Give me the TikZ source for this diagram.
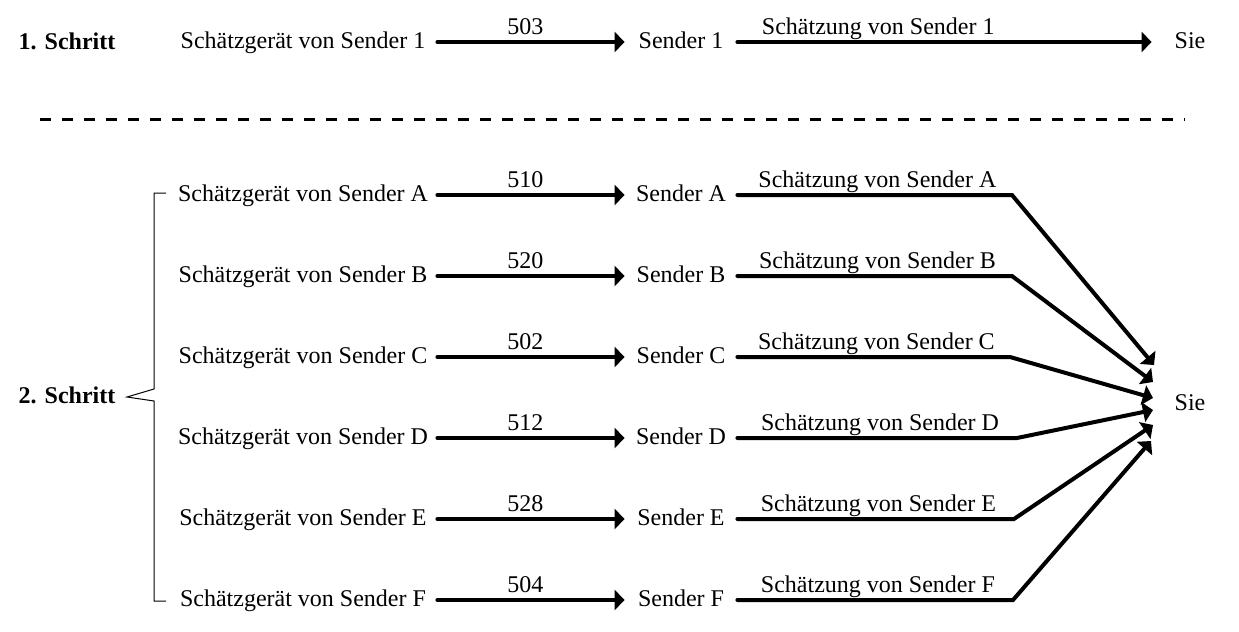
\documentclass[tikz,border=0pt]{standalone}
\usepackage{fontspec}
\setmainfont{Liberation Serif}
\usetikzlibrary{arrows.meta}

\begin{document}
\begin{tikzpicture}[x=0.5pt,y=-0.5pt,font=\fontsize{12}{14}\selectfont]
      \useasboundingbox (0,0) rectangle (1239,632);
      \tikzset{Schritt/.style = {inner sep=0pt, font=\fontsize{12}{14}\selectfont\bfseries},
               Geraet/.style = {inner sep=0pt, minimum width=134pt, text height=8.5pt, text depth=2.5pt},
               Sender/.style = {inner sep=0pt, minimum width=56pt, text height=8.5pt, text depth=2.5pt},
               Ziel/.style = {inner sep=0pt, minimum width=38pt, text height=8.5pt, text depth=2.5pt},
               Wert/.style = {above=3pt, inner sep=0pt, text depth=0pt},
               Pfeil/.style = {line width=2pt, line cap=round, -{Triangle[length=5pt,width=10pt]}}}

      % 1. Schritt
      \node[Schritt] (st1) at (67,41) {1. Schritt};
      \node[Geraet] (g1) at (303,42) {Schätzgerät von Sender 1};
      \node[Sender] (s1) at (681,42) {Sender 1};
      \node[Ziel] (sie1) at (1190,42) {Sie};
      \draw[Pfeil] (g1) -- node[Wert, pos=0.47]{503} (s1);
      \draw[Pfeil] (s1) -- node[Wert, pos=0.34]{Schätzung von Sender 1} (sie1);

      % Trennlinie
      \draw[line width=1.5pt, dash pattern=on 5.5pt off 5.5pt] (40,119) -- (1185,119);

      % 2. Schritt
      \node[Schritt] (st2) at (67,395) {2. Schritt};
      \draw[line width=0.5pt] (166,193) -- (154,193) -- (154,389) -- (127,397)
            -- (154,401) -- (154,601) -- (166,601);
      \node[Ziel] (sie2) at (1190,404) {Sie};

      % Vertices
      \node[Geraet] (gA) at (303,195) {Schätzgerät von Sender A};
      \node[Geraet] (gB) at (303,276) {Schätzgerät von Sender B};
      \node[Geraet] (gC) at (303,357) {Schätzgerät von Sender C};
      \node[Geraet] (gD) at (303,438) {Schätzgerät von Sender D};
      \node[Geraet] (gE) at (303,519) {Schätzgerät von Sender E};
      \node[Geraet] (gF) at (303,600) {Schätzgerät von Sender F};
      \node[Sender] (sA) at (681,195) {Sender A};
      \node[Sender] (sB) at (681,276) {Sender B};
      \node[Sender] (sC) at (681,357) {Sender C};
      \node[Sender] (sD) at (681,438) {Sender D};
      \node[Sender] (sE) at (681,519) {Sender E};
      \node[Sender] (sF) at (681,600) {Sender F};
      \coordinate (kA) at (1012,195);
      \coordinate (kB) at (1012,276);
      \coordinate (kC) at (1010,357);
      \coordinate (kD) at (1017,438);
      \coordinate (kE) at (1014,519);
      \coordinate (kF) at (1013,600);
      \coordinate (tA) at (1154,365);
      \coordinate (tB) at (1153,382);
      \coordinate (tC) at (1153,398);
      \coordinate (tD) at (1153,410);
      \coordinate (tE) at (1153,425);
      \coordinate (tF) at (1151,441);

      % Edges
      \draw[Pfeil] (gA) -- node[Wert, pos=0.47]{510} (sA);
      \draw[Pfeil] (gB) -- node[Wert, pos=0.47]{520} (sB);
      \draw[Pfeil] (gC) -- node[Wert, pos=0.47]{502} (sC);
      \draw[Pfeil] (gD) -- node[Wert, pos=0.47]{512} (sD);
      \draw[Pfeil] (gE) -- node[Wert, pos=0.47]{528} (sE);
      \draw[Pfeil] (gF) -- node[Wert, pos=0.47]{504} (sF);
      \draw[Pfeil] (sA) -- node[Wert, pos=0.51]{Schätzung von Sender A} (kA) -- (tA);
      \draw[Pfeil] (sB) -- node[Wert, pos=0.51]{Schätzung von Sender B} (kB) -- (tB);
      \draw[Pfeil] (sC) -- node[Wert, pos=0.51]{Schätzung von Sender C} (kC) -- (tC);
      \draw[Pfeil] (sD) -- node[Wert, pos=0.51]{Schätzung von Sender D} (kD) -- (tD);
      \draw[Pfeil] (sE) -- node[Wert, pos=0.51]{Schätzung von Sender E} (kE) -- (tE);
      \draw[Pfeil] (sF) -- node[Wert, pos=0.51]{Schätzung von Sender F} (kF) -- (tF);
\end{tikzpicture}
\end{document}
